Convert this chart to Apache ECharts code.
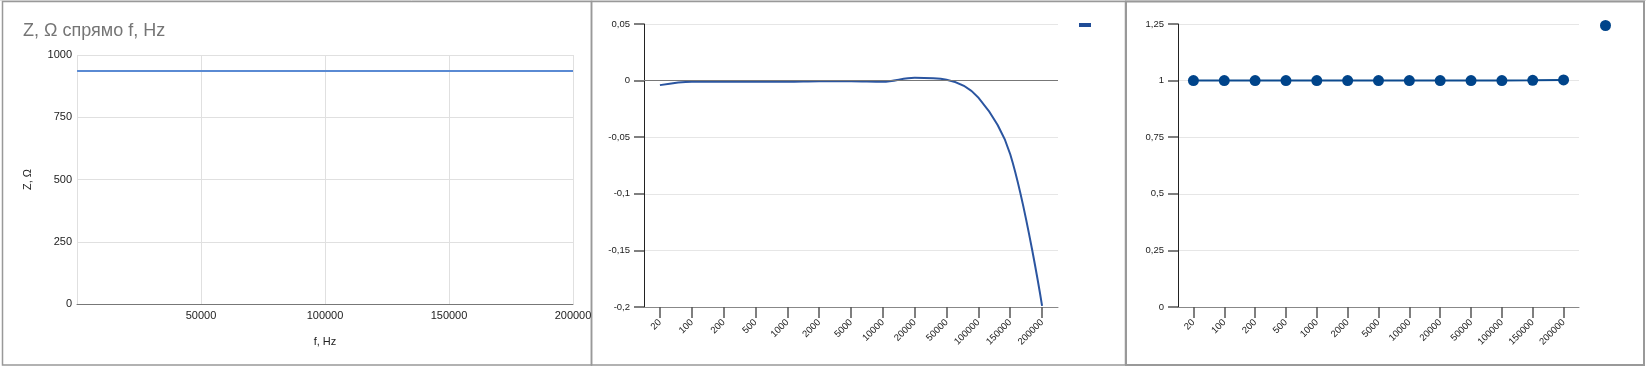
<!DOCTYPE html>
<html>
<head>
<meta charset="utf-8">
<script src="https://cdn.jsdelivr.net/npm/echarts@6/dist/echarts.min.js"></script>
<style>
html,body{margin:0;padding:0;background:#fff;}
#c{width:1646px;height:366px;}
</style>
</head>
<body>
<div id="c"></div>
<script>
// ---- data ----
const freqHz = [20, 100, 200, 500, 1000, 2000, 5000, 10000, 20000, 50000, 100000, 150000, 200000];
const freqLabels = ['20', '100', '200', '500', '1000', '2000', '5000', '10000', '20000', '50000', '100000', '150000', '200000'];
const impedanceOhm = [936, 936, 936, 936, 936, 936, 936, 936, 936, 936, 936, 936, 936];
const deviation = [-0.004, -0.001, -0.001, -0.001, -0.001, -0.0005, -0.0005, -0.001, 0.0025, 0.0008, -0.015, -0.065, -0.199];
const ratio = [1, 1, 1, 1, 1, 1, 1, 1, 1, 1, 1, 1.001, 1.003];
const chartTitle = 'Z, Ω спрямо f, Hz';
const xName = 'f, Hz';
const yName = 'Z, Ω';

const FONT = 'Liberation Sans, Arial, sans-serif';
const comma = v => String(+Number(v).toFixed(2)).replace('.', ',');

const chart = echarts.init(document.getElementById('c'), null, {renderer: 'canvas'});
const tickStyle = {color: '#555', width: 1.5};
chart.setOption({
  animation: false,
  textStyle: {fontFamily: FONT},
  title: {
    text: chartTitle, left: 18, top: 17,
    textStyle: {color: '#757575', fontSize: 18, fontWeight: 'normal', fontFamily: FONT}
  },
  legend: [
    {data: ['dev'], left: 1079, top: 23, icon: 'rect', itemWidth: 12, itemHeight: 4,
     formatter: () => '', itemGap: 0, padding: 0},
    {data: ['ratio'], left: 1600, top: 20, icon: 'circle', itemWidth: 11, itemHeight: 11,
     formatter: () => '', itemGap: 0, padding: 0}
  ],
  grid: [
    {left: 77, top: 55, width: 496, height: 249},
    {left: 644, top: 24, width: 414, height: 283},
    {left: 1178, top: 24, width: 401, height: 283}
  ],
  xAxis: [
    {gridIndex: 0, type: 'value', min: 0, max: 200000, interval: 50000,
     name: xName, nameLocation: 'middle', nameGap: 32,
     nameTextStyle: {color: '#222', fontSize: 11, fontFamily: FONT},
     axisLine: {onZero: false, lineStyle: {color: '#777', width: 1}}, axisTick: {show: false},
     axisLabel: {color: '#222', fontSize: 11, margin: 6, formatter: v => v === 0 ? '' : String(v)},
     splitLine: {show: true, lineStyle: {color: '#e0e0e0'}}},
    {gridIndex: 1, type: 'category', data: freqLabels, boundaryGap: true,
     axisLine: {onZero: false, lineStyle: {color: '#888'}},
     axisTick: {show: true, alignWithLabel: true, length: 11, lineStyle: tickStyle},
     axisLabel: {rotate: 45, fontSize: 9.5, color: '#222', margin: 14, interval: 0},
     splitLine: {show: false}},
    {gridIndex: 2, type: 'category', data: freqLabels, boundaryGap: true,
     axisLine: {onZero: false, lineStyle: {color: '#888'}},
     axisTick: {show: true, alignWithLabel: true, length: 11, lineStyle: tickStyle},
     axisLabel: {rotate: 45, fontSize: 9.5, color: '#222', margin: 14, interval: 0},
     splitLine: {show: false}}
  ],
  yAxis: [
    {gridIndex: 0, type: 'value', min: 0, max: 1000, interval: 250,
     name: yName, nameLocation: 'middle', nameGap: 44,
     nameTextStyle: {color: '#222', fontSize: 11, fontFamily: FONT},
     axisLine: {show: false}, axisTick: {show: false},
     axisLabel: {color: '#222', fontSize: 11, margin: 5, formatter: v => String(v)},
     splitLine: {lineStyle: {color: '#e0e0e0'}}},
    {gridIndex: 1, type: 'value', min: -0.2, max: 0.05, interval: 0.05,
     axisLine: {show: true, onZero: false, lineStyle: {color: '#222'}},
     axisTick: {show: true, length: 10, lineStyle: tickStyle},
     axisLabel: {color: '#222', fontSize: 9.5, margin: 14, formatter: comma},
     splitLine: {lineStyle: {color: '#e6e6e6'}}},
    {gridIndex: 2, type: 'value', min: 0, max: 1.25, interval: 0.25,
     axisLine: {show: true, onZero: false, lineStyle: {color: '#222'}},
     axisTick: {show: true, length: 10, lineStyle: tickStyle},
     axisLabel: {color: '#222', fontSize: 9.5, margin: 14, formatter: comma},
     splitLine: {lineStyle: {color: '#e6e6e6'}}}
  ],
  series: [
    {name: 'Z', type: 'line', xAxisIndex: 0, yAxisIndex: 0,
     data: freqHz.map((f, i) => [f, impedanceOhm[i]]),
     showSymbol: false, lineStyle: {color: '#5a8ad3', width: 2}, itemStyle: {color: '#5a8ad3'}},
    {name: 'dev', type: 'line', xAxisIndex: 1, yAxisIndex: 1, data: deviation, smooth: 0.35,
     showSymbol: false, lineStyle: {color: '#2b55a0', width: 2}, itemStyle: {color: '#1f4c96'},
     markLine: {silent: true, symbol: 'none', label: {show: false},
       lineStyle: {color: '#777', type: 'solid', width: 1}, data: [{yAxis: 0}]}},
    {name: 'ratio', type: 'line', xAxisIndex: 2, yAxisIndex: 2, data: ratio,
     symbol: 'circle', symbolSize: 11, showSymbol: true,
     lineStyle: {color: '#0d4a8e', width: 2}, itemStyle: {color: '#00448a'}}
  ],
  graphic: [
    {type: 'rect', shape: {x: 1227, y: 0, width: 61, height: 2}, style: {fill: '#c9daf5'}, silent: true},
    {type: 'line', shape: {x1: 0, y1: 0.5, x2: 1646, y2: 0.5}, style: {stroke: '#e0e0e0', lineWidth: 1}, silent: true},
    {type: 'rect', shape: {x: 2.5, y: 1.5, width: 589, height: 363.5}, style: {fill: null, stroke: '#999', lineWidth: 1.5}, silent: true},
    {type: 'rect', shape: {x: 591.5, y: 1.5, width: 534, height: 363.5}, style: {fill: null, stroke: '#999', lineWidth: 1.5}, silent: true},
    {type: 'rect', shape: {x: 1126, y: 1.5, width: 518, height: 363.5}, style: {fill: null, stroke: '#999', lineWidth: 2}, silent: true}
  ]
});
</script>
</body>
</html>
